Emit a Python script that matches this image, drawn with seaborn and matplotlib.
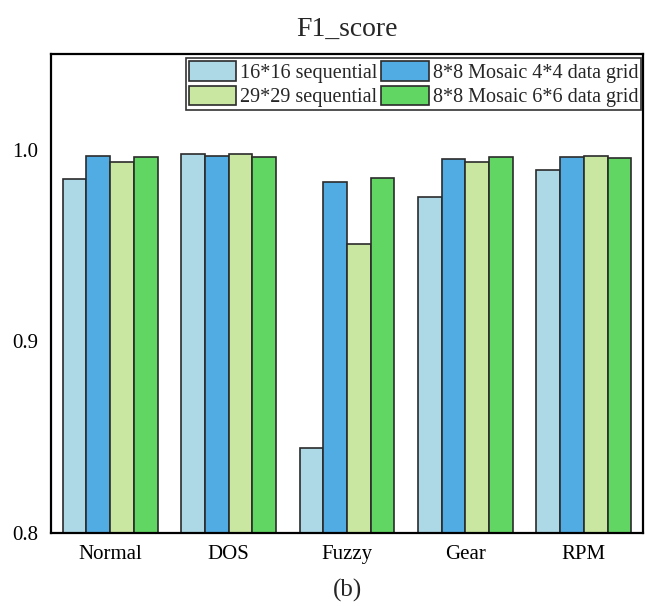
import matplotlib
matplotlib.use("Agg")
import matplotlib.pyplot as plt
import seaborn as sns
import pandas as pd

# Attack classes on the x axis
categories = ["Normal", "DOS", "Fuzzy", "Gear", "RPM"]

# F1 scores for each input representation
seq_16 = [0.9849, 0.9978, 0.8441, 0.9752, 0.9894]
mosaic_4 = [0.9965, 0.9969, 0.9830, 0.9953, 0.9960]
seq_29 = [0.9937, 0.9978, 0.9507, 0.9937, 0.9965]
mosaic_6 = [0.9964, 0.9964, 0.9850, 0.9960, 0.9958]

series_names = [
    "16*16 sequential",
    "8*8 Mosaic 4*4 data grid",
    "29*29 sequential",
    "8*8 Mosaic 6*6 data grid",
]
series_values = [seq_16, mosaic_4, seq_29, mosaic_6]
palette = ["#ADD8E6", "#52ACE4", "#C9E7A0", "#62D663"]

y_ticks = [0.8, 0.9, 1.0]
y_tick_labels = ["0.8", "0.9", "1.0"]

rows = []
for name, vals in zip(series_names, series_values):
    for cat, v in zip(categories, vals):
        rows.append({"category": cat, "series": name, "F1": v})
df = pd.DataFrame(rows)

sns.set_style("white")
plt.rcParams["font.family"] = ["Liberation Serif", "DejaVu Serif"]

fig = plt.figure(figsize=(6.45, 6.06), dpi=100)
ax = fig.add_axes([0.079, 0.1205, 0.918, 0.7905])

sns.barplot(
    data=df, x="category", y="F1", hue="series",
    order=categories, hue_order=series_names, palette=palette,
    width=0.8, edgecolor="#2b2b2b", linewidth=1.2, saturation=1,
    errorbar=None, ax=ax,
)

ax.set_ylim(0.8, 1.05)
ax.set_xlim(-0.5, len(categories) - 0.5)
ax.set_yticks(y_ticks)
ax.set_yticklabels(y_tick_labels)
ax.set_xlabel("")
ax.set_ylabel("")
ax.tick_params(axis="both", length=0, labelsize=15, colors="black")
ax.tick_params(axis="y", pad=9)
ax.tick_params(axis="x", pad=9)
for s in ax.spines.values():
    s.set_visible(True)
    s.set_color("black")
    s.set_linewidth(1.6)

ax.set_title("F1_score", fontsize=20, pad=13)

handles, labels = ax.get_legend_handles_labels()
order = [0, 2, 1, 3]
leg = ax.legend(
    [handles[i] for i in order], [labels[i] for i in order],
    ncol=2, loc="upper right", bbox_to_anchor=(0.997, 0.991),
    fontsize=14.5, frameon=True, fancybox=False, edgecolor="black",
    handlelength=2.35, handleheight=1.1, handletextpad=0.2,
    columnspacing=0.2, labelspacing=0.15, borderpad=0.15, borderaxespad=0.0,
)
leg.get_frame().set_linewidth(1.2)

fig.text(0.538, 0.025, "(b)", ha="center", va="center", fontsize=18)

fig.savefig("out.png", dpi=100)
